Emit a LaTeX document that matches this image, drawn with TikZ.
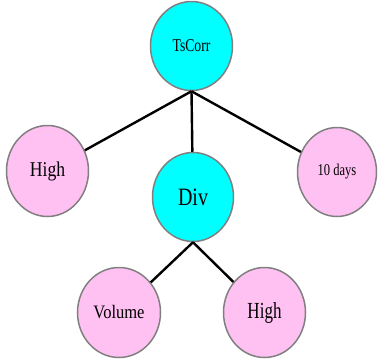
\documentclass[tikz,border=0pt]{standalone}
\usepackage{fontspec}
\usepackage{graphicx}
\setmainfont{Liberation Serif}
\usetikzlibrary{shapes.geometric}
\definecolor{opcyan}{HTML}{00FFFF}
\definecolor{leafpink}{HTML}{FFC0F2}
\definecolor{rimgray}{HTML}{808080}
\newcommand{\lbl}[3]{\fontsize{#1}{#1}\selectfont\scalebox{#2}[1]{#3}}
\tikzset{
  opnode/.style={ellipse, draw=rimgray, line width=1.5pt, fill=opcyan, inner sep=0pt},
  leafnode/.style={ellipse, draw=rimgray, line width=1.5pt, fill=leafpink, inner sep=0pt},
  edge/.style={draw=black, line width=2.4pt}
}
\begin{document}
\begin{tikzpicture}[x=1pt,y=-1pt]
\useasboundingbox (0,0) rectangle (378,362);
\node[opnode, minimum width=82pt, minimum height=89pt] (ts) at (191.5,46) {\lbl{18}{0.76}{TsCorr}};
\node[leafnode, minimum width=82pt, minimum height=91pt] (hi1) at (47.5,171) {\lbl{21}{0.84}{High}};
\node[opnode, minimum width=81pt, minimum height=89pt] (dv) at (193,197) {\lbl{25}{0.8}{Div}};
\node[leafnode, minimum width=79pt, minimum height=89pt] (days) at (337,172) {\lbl{16.5}{0.76}{10 days}};
\node[leafnode, minimum width=83pt, minimum height=90pt] (vol) at (119,312.5) {\lbl{19}{0.87}{Volume}};
\node[leafnode, minimum width=82pt, minimum height=90pt] (hi2) at (264.5,312.5) {\lbl{23}{0.74}{High}};
\draw[edge] (ts.south) -- (hi1);
\draw[edge] (ts.south) -- (dv);
\draw[edge] (ts.south) -- (days);
\draw[edge] (dv.south) -- (vol);
\draw[edge] (dv.south) -- (hi2);
\end{tikzpicture}
\end{document}
